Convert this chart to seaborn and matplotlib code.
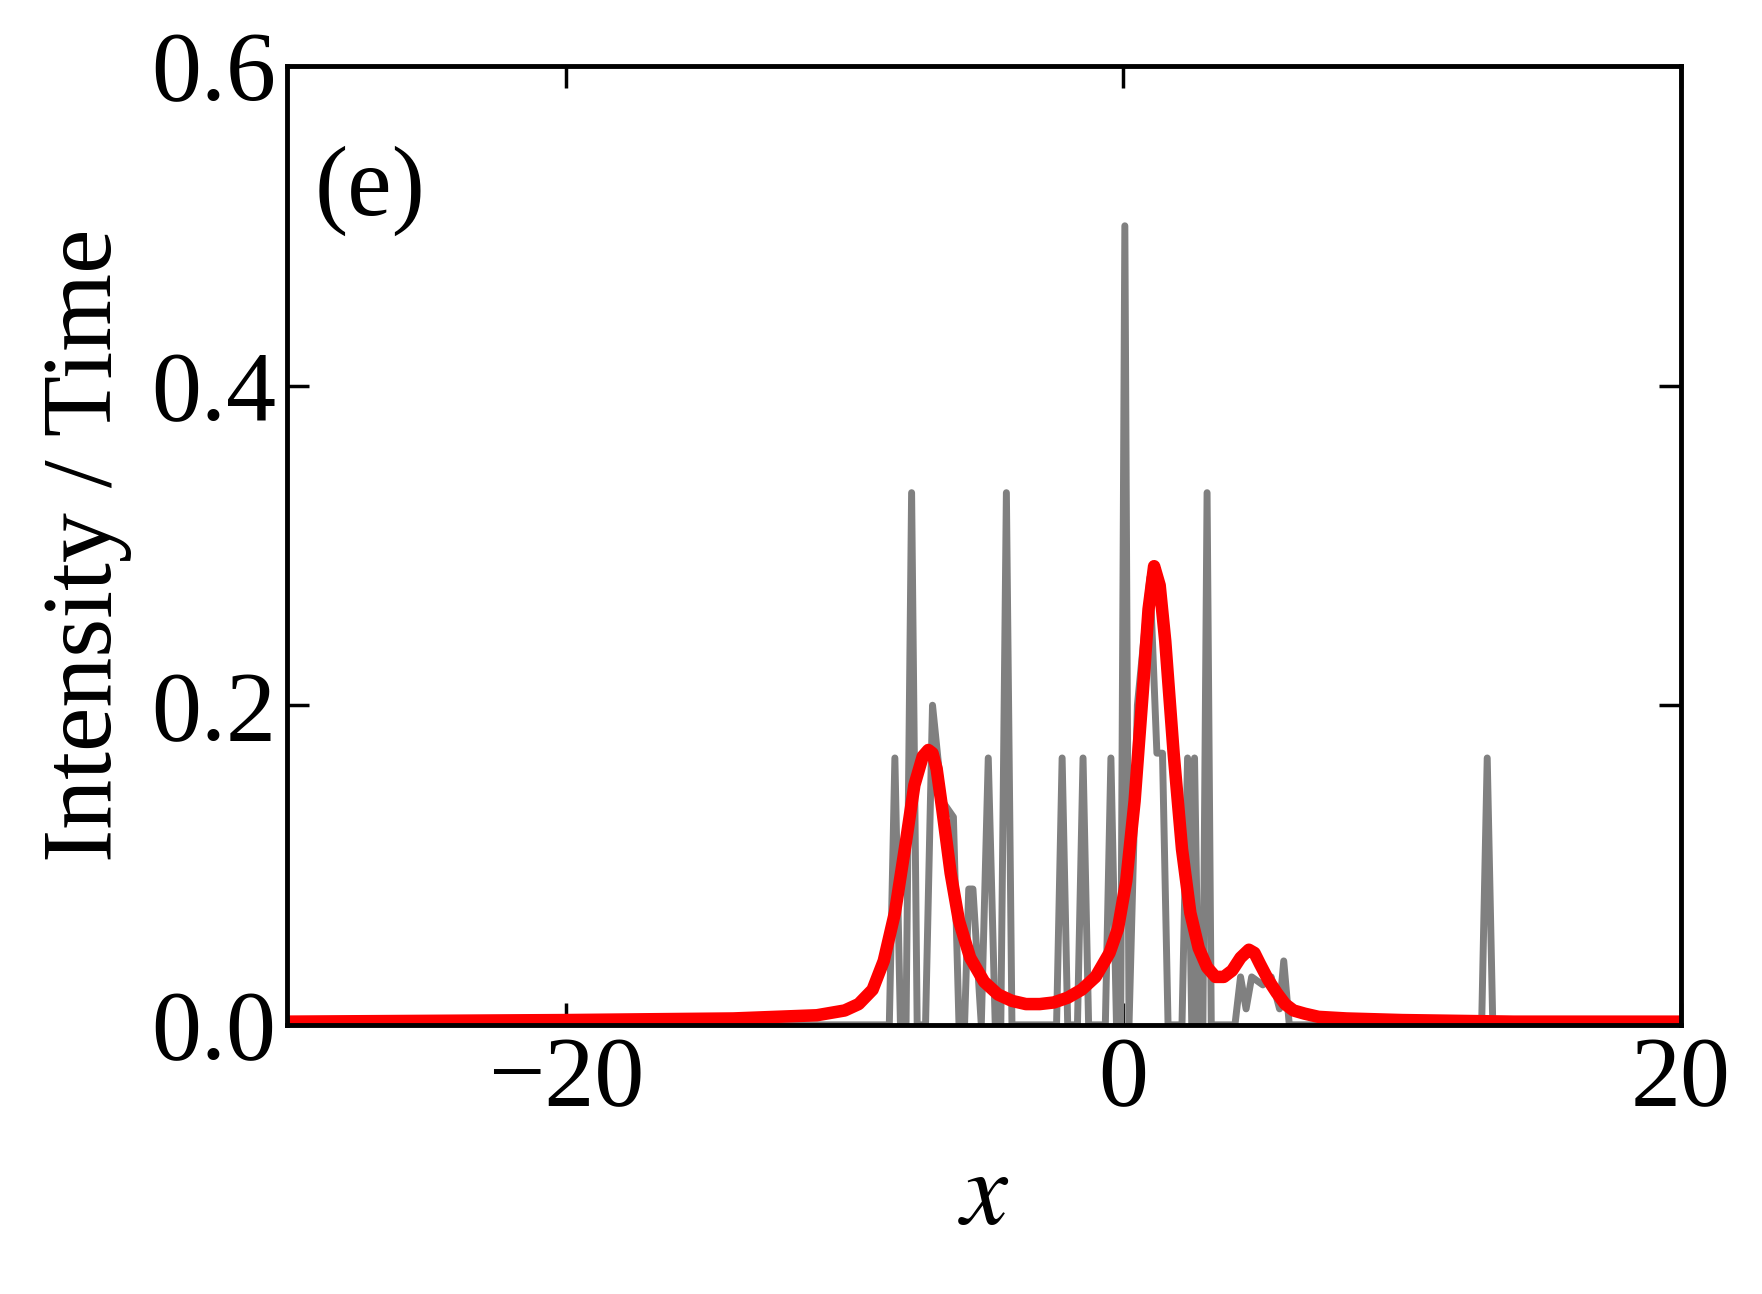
import numpy as np
import pandas as pd
import matplotlib
matplotlib.use("Agg")
import matplotlib.pyplot as plt
import seaborn as sns

sns.set_style("white")
plt.rcParams["font.family"] = "Liberation Serif"
plt.rcParams["mathtext.fontset"] = "stix"
plt.rcParams["text.color"] = "black"
plt.rcParams["axes.labelcolor"] = "black"
plt.rcParams["xtick.color"] = "black"
plt.rcParams["ytick.color"] = "black"

# gray spike series (x, intensity)
gray_x = [-30, -8.4, -8.2, -8.0, -7.8, -7.6, -7.4, -7.1, -6.85, -6.5, -6.1, -5.9,
          -5.7, -5.55, -5.4, -5.1, -4.85, -4.6, -4.4, -4.2, -4.0, -2.4, -2.2, -2.0,
          -1.65, -1.45, -1.25, -0.65, -0.45, -0.25, -0.1, 0.05, 0.2, 0.5, 0.95,
          1.2, 1.4, 1.6, 2.1, 2.3, 2.45, 2.55, 2.7, 2.85, 3.0, 3.15, 4.0, 4.2,
          4.4, 4.6, 5.0, 5.3, 5.6, 5.75, 5.95, 12.85, 13.05, 13.25, 20]
gray_y = [0, 0, 0.167, 0, 0, 0.333, 0, 0, 0.2, 0.14, 0.13, 0,
          0, 0.085, 0.085, 0, 0.167, 0, 0, 0.333, 0, 0, 0.167, 0,
          0, 0.167, 0, 0, 0.167, 0, 0, 0.5, 0, 0.2, 0.28,
          0.17, 0.17, 0, 0, 0.167, 0, 0.167, 0, 0, 0.333, 0, 0, 0.03,
          0.01, 0.03, 0.025, 0.03, 0.01, 0.04, 0, 0, 0.167, 0, 0]

# red smooth curve
red_x = [-30, -20, -14, -11, -10, -9.5, -9, -8.6, -8.2, -7.8, -7.5, -7.2, -7.0,
         -6.85, -6.7, -6.5, -6.2, -5.9, -5.5, -5.0, -4.5, -4.0, -3.5, -3.0, -2.5,
         -2.0, -1.5, -1.0, -0.5, -0.2, 0.1, 0.4, 0.7, 0.9, 1.1, 1.3, 1.5, 1.8,
         2.1, 2.4, 2.7, 3.0, 3.3, 3.6, 3.9, 4.2, 4.5, 4.7, 4.9, 5.2, 5.5, 5.8,
         6.1, 6.5, 7.0, 8.0, 10, 14, 20]
red_y = [0.002, 0.003, 0.004, 0.006, 0.009, 0.013, 0.022, 0.04, 0.07, 0.115, 0.15,
         0.168, 0.172, 0.17, 0.16, 0.135, 0.095, 0.065, 0.042, 0.027, 0.019,
         0.015, 0.013, 0.013, 0.014, 0.017, 0.022, 0.03, 0.045, 0.06, 0.09, 0.14,
         0.21, 0.26, 0.287, 0.275, 0.24, 0.17, 0.11, 0.07, 0.048, 0.036, 0.03,
         0.03, 0.034, 0.042, 0.047, 0.045, 0.038, 0.028, 0.02, 0.013, 0.009,
         0.007, 0.005, 0.004, 0.003, 0.002, 0.002]

gray = pd.DataFrame({"x": gray_x, "y": gray_y})
red = pd.DataFrame({"x": red_x, "y": red_y})

fig = plt.figure(figsize=(17.62, 12.94), dpi=100)
ax = fig.add_axes([0.163, 0.208, 0.791, 0.741])
sns.lineplot(data=gray, x="x", y="y", ax=ax, color="gray", lw=5, sort=False)
sns.lineplot(data=red, x="x", y="y", ax=ax, color="red", lw=9, sort=False)

ax.set_xlim(-30, 20)
ax.set_ylim(0, 0.6)
ax.set_xticks([-20, 0, 20])
ax.set_yticks([0, 0.2, 0.4, 0.6])
ax.set_yticklabels(["0.0", "0.2", "0.4", "0.6"])
ax.tick_params(direction="in", length=16, width=2.5, labelsize=72,
               bottom=True, left=True, top=True, right=True, pad=8)
for s in ax.spines.values():
    s.set_linewidth(3.5)
    s.set_color("black")
ax.set_xlabel("$x$", fontsize=76, labelpad=18)
ax.set_ylabel("Intensity / Time", fontsize=72, labelpad=14)
ax.text(0.02, 0.87, "(e)", transform=ax.transAxes, fontsize=72, va="center")

fig.savefig("out.png", dpi=100)
